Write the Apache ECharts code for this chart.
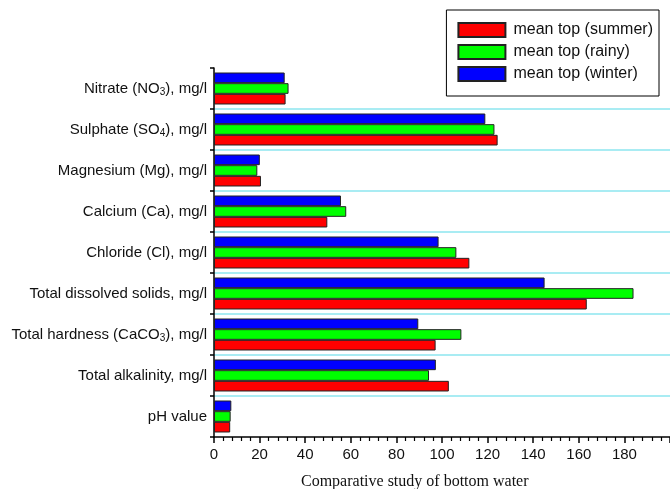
<!DOCTYPE html>
<html>
<head>
<meta charset="utf-8">
<script src="https://cdn.jsdelivr.net/npm/echarts@6/dist/echarts.min.js"></script>
<style>
html,body{margin:0;padding:0;background:#fff;}
#chart{width:670px;height:489px;}
</style>
</head>
<body>
<div id="chart"></div>
<script>
// Categories from bottom to top
const categories = [
  'pH value',
  'Total alkalinity, mg/l',
  'Total hardness (CaCO3), mg/l',
  'Total dissolved solids, mg/l',
  'Chloride (Cl), mg/l',
  'Calcium (Ca), mg/l',
  'Magnesium (Mg), mg/l',
  'Sulphate (SO4), mg/l',
  'Nitrate (NO3), mg/l'
];
const seriesNames = ['mean top (summer)', 'mean top (rainy)', 'mean top (winter)'];
const summer = [7.1, 103, 97.2, 163.5, 112, 49.7, 20.6, 124.4, 31.4];
const rainy  = [7.3, 94.3, 108.5, 184, 106.3, 58, 19, 123, 32.7];
const winter = [7.6, 97.3, 89.6, 145, 98.5, 55.7, 20.1, 119, 31];
const xTicks = [0, 20, 40, 60, 80, 100, 120, 140, 160, 180];
const xTitle = 'Comparative study of bottom water';

const colors = ['#ff0000', '#00ff00', '#0000ff'];
const values = [summer, rainy, winter];

// draw order: winter first (top of band), summer last (bottom of band)
const drawOrder = [2, 1, 0];

const chart = echarts.init(document.getElementById('chart'));
chart.setOption({
  animation: false,
  backgroundColor: '#ffffff',
  textStyle: { fontFamily: 'Liberation Sans, Arial, sans-serif' },
  title: {
    text: xTitle,
    left: 296,
    top: 469,
    textStyle: { fontFamily: 'Liberation Serif, Times New Roman, serif', fontSize: 16, fontWeight: 'normal', color: '#111' }
  },
  legend: {
    orient: 'vertical',
    right: 11,
    top: 10,
    padding: [12, 6, 14, 11],
    itemWidth: 47,
    itemHeight: 14,
    itemGap: 6,
    icon: 'rect',
    borderColor: '#000',
    borderWidth: 1,
    data: seriesNames,
    textStyle: { fontSize: 16, color: '#111', lineHeight: 16, padding: [0, 0, 0, 3] }
  },
  grid: { left: 214, right: 0, top: 68, bottom: 52, containLabel: false },
  xAxis: {
    type: 'value',
    min: 0,
    max: 200,
    interval: 20,
    axisLine: { show: true, lineStyle: { color: '#000', width: 1.5 } },
    axisTick: { show: true, length: 6, lineStyle: { color: '#000', width: 1.5 } },
    minorTick: { show: true, splitNumber: 5, length: 4, lineStyle: { color: '#000', width: 1.2 } },
    axisLabel: {
      fontSize: 15, color: '#111', margin: 10,
      showMaxLabel: false,
      formatter: function (v) { return xTicks.indexOf(v) >= 0 ? String(v) : ''; }
    },
    splitLine: { show: false }
  },
  yAxis: {
    type: 'category',
    data: categories,
    axisLine: { show: true, lineStyle: { color: '#000', width: 1.5 } },
    axisTick: { show: true, length: 4, lineStyle: { color: '#000', width: 1.5 } },
    axisLabel: {
      fontSize: 15, color: '#111', margin: 7,
      formatter: function (v) { return v.replace(/(NO|SO|CaCO)(\d)/, '$1{sub|$2}'); },
      rich: {
        sub: { fontSize: 10, color: '#111', padding: [7, 0, 0, 0] }
      }
    },
    splitLine: { show: true, showMaxLine: false, showMinLine: false, lineStyle: { color: '#8de6ef', width: 1.5 } }
  },
  series: drawOrder.map(function (i) {
    return {
      name: seriesNames[i],
      type: 'bar',
      data: values[i],
      barGap: '0%',
      barCategoryGap: '22%',
      itemStyle: { color: colors[i], borderColor: '#222', borderWidth: 1 }
    };
  })
});
</script>
</body>
</html>
